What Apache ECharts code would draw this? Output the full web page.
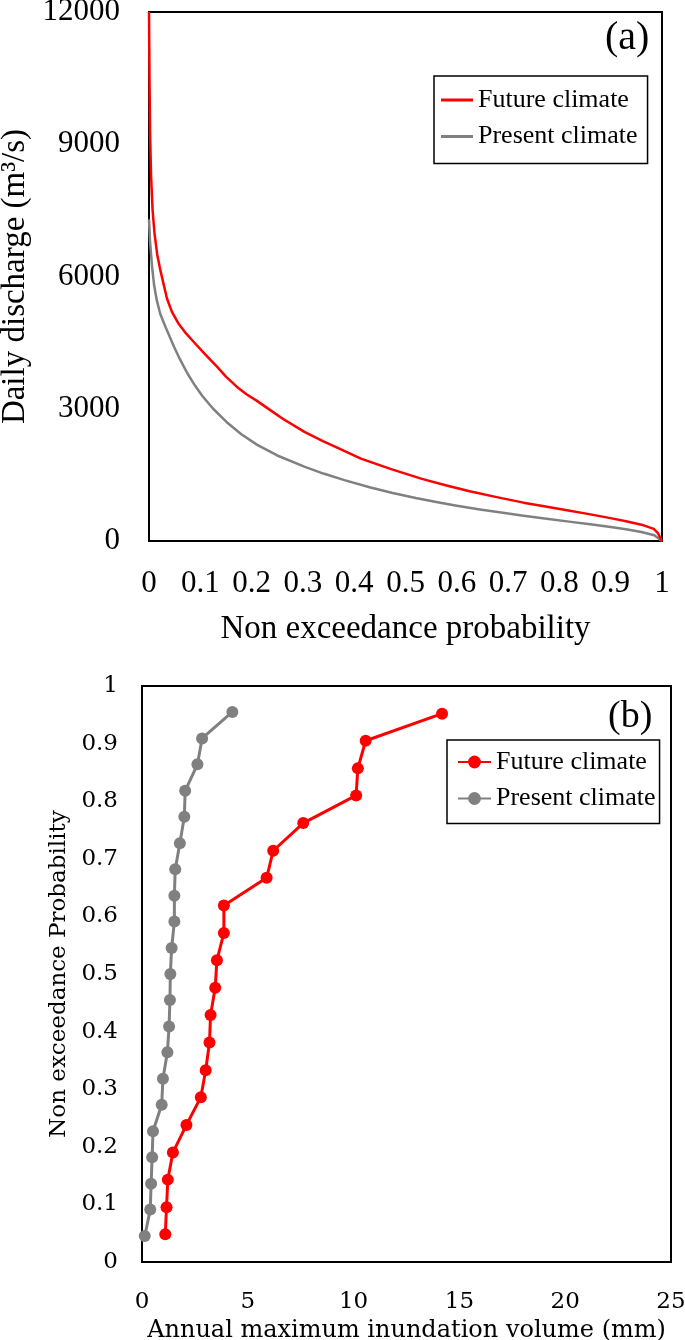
<!DOCTYPE html>
<html><head><meta charset="utf-8">
<script src="https://cdn.jsdelivr.net/npm/echarts@6/dist/echarts.min.js"></script>
<style>html,body{margin:0;padding:0;background:#fff;}#a,#b{width:685px;height:670px;}</style>
</head><body><div id="a"></div><div id="b"></div>
<script>
// ---------- Panel (a): flow duration curves ----------
const probFutureA = [0,0.001,0.002,0.004,0.007,0.011,0.016,0.022,0.028,0.035,0.045,0.057,0.07,0.09,0.11,0.133,0.15,0.171,0.19,0.209,0.235,0.26,0.303,0.34,0.37,0.413,0.472,0.532,0.58,0.625,0.68,0.73,0.77,0.812,0.855,0.897,0.93,0.96,0.984,0.992,1.0];
const dischargeFuture = [12000,10500,9300,8300,7500,6950,6500,6150,5850,5500,5190,4940,4740,4480,4230,3950,3730,3500,3330,3190,2980,2780,2475,2260,2100,1870,1630,1410,1260,1130,990,870,790,705,615,525,450,370,275,180,0];
const probPresentA = [0,0.002,0.006,0.01,0.015,0.022,0.032,0.049,0.06,0.075,0.09,0.104,0.125,0.151,0.18,0.211,0.25,0.304,0.34,0.381,0.43,0.475,0.52,0.56,0.6,0.645,0.69,0.73,0.775,0.815,0.86,0.9,0.93,0.96,0.985,1.0];
const dischargePresent = [7300,6800,6220,5800,5470,5150,4860,4400,4130,3800,3520,3290,3000,2700,2420,2180,1940,1680,1530,1380,1220,1090,975,885,800,715,640,575,505,445,380,318,265,204,130,0];

// ---------- Panel (b): annual maximum inundation volume ----------
const probFutureB = [0.048,0.095,0.143,0.19,0.238,0.286,0.333,0.381,0.429,0.476,0.524,0.571,0.619,0.667,0.714,0.762,0.81,0.857,0.905,0.952];
const volumeFuture = [1.1,1.16,1.22,1.46,2.1,2.78,3.01,3.19,3.24,3.46,3.54,3.87,3.87,5.89,6.2,7.62,10.12,10.2,10.57,14.18];
const probPresentB = [0.045,0.091,0.136,0.182,0.227,0.273,0.318,0.364,0.409,0.455,0.5,0.545,0.591,0.636,0.682,0.727,0.773,0.818,0.864,0.909,0.955];
const volumePresent = [0.13,0.39,0.43,0.48,0.52,0.93,0.99,1.2,1.28,1.32,1.34,1.4,1.53,1.53,1.57,1.79,2.0,2.04,2.62,2.84,4.27];

const seriesNames = ['Future climate','Present climate'];
const xRangeA = [0,1,0.1], yRangeA = [0,12000,3000];
const xRangeB = [0,25,5], yRangeB = [0,1,0.1];

const RED = '#ff0000', GREY = '#808080';
const TIMES = '"Liberation Serif", "Times New Roman", serif';
const CENT = '"DejaVu Serif", serif';
const zip = (a,b)=>a.map((v,i)=>[v,b[i]]);
const fmt = v => String(Math.round(v*10)/10);

const chartA = echarts.init(document.getElementById('a'));
chartA.setOption({
  animation:false,
  grid:{left:149,top:12,width:513,height:529,show:true,borderColor:'#000',borderWidth:2,outerBoundsMode:'none',containLabel:false},
  xAxis:{type:'value',min:xRangeA[0],max:xRangeA[1],interval:xRangeA[2],
    axisLine:{show:true,lineStyle:{color:'#000',width:2}},axisTick:{show:false},splitLine:{show:false},
    axisLabel:{color:'#000',fontFamily:TIMES,fontSize:31,margin:27,formatter:fmt},
    name:'Non exceedance probability',nameLocation:'middle',nameGap:72,
    nameTextStyle:{color:'#000',fontFamily:TIMES,fontSize:33}},
  yAxis:{type:'value',min:yRangeA[0],max:yRangeA[1],interval:yRangeA[2],
    axisLine:{show:true,lineStyle:{color:'#000',width:2}},axisTick:{show:false},splitLine:{show:false},
    axisLabel:{color:'#000',fontFamily:TIMES,fontSize:31,margin:29,formatter:v=>String(v)},
    name:'Daily discharge (m³/s)',nameLocation:'middle',nameGap:110,
    nameTextStyle:{color:'#000',fontFamily:TIMES,fontSize:33}},
  legend:{data:seriesNames.map(n=>({name:n,icon:'rect'})),orient:'vertical',left:434,top:76,padding:[9,10,12,7],
    itemWidth:32,itemHeight:3,itemGap:6.5,borderColor:'#000',borderWidth:1.5,
    textStyle:{color:'#000',fontFamily:TIMES,fontSize:26,lineHeight:30}},
  graphic:[{type:'text',left:605,top:18,style:{text:'(a)',fill:'#000',font:'40px "Liberation Serif"'}}],
  series:[
    {type:'line',name:seriesNames[1],data:zip(probPresentA,dischargePresent),symbol:'none',
      lineStyle:{color:GREY,width:2.5,join:'round'},itemStyle:{color:GREY}},
    {type:'line',name:seriesNames[0],data:zip(probFutureA,dischargeFuture),symbol:'none',
      lineStyle:{color:RED,width:2.5,join:'round'},itemStyle:{color:RED}}
  ]
});

const chartB = echarts.init(document.getElementById('b'));
chartB.setOption({
  animation:false,
  grid:{left:142,top:16,width:529,height:576,show:true,borderColor:'#000',borderWidth:2,outerBoundsMode:'none',containLabel:false},
  xAxis:{type:'value',min:xRangeB[0],max:xRangeB[1],interval:xRangeB[2],
    axisLine:{show:true,lineStyle:{color:'#000',width:2}},axisTick:{show:false},splitLine:{show:false},
    axisLabel:{color:'#000',fontFamily:CENT,fontSize:23,margin:29},
    name:'Annual maximum inundation volume (mm)',nameLocation:'middle',nameGap:55,
    nameTextStyle:{color:'#000',fontFamily:CENT,fontSize:24}},
  yAxis:{type:'value',min:yRangeB[0],max:yRangeB[1],interval:yRangeB[2],
    axisLine:{show:true,lineStyle:{color:'#000',width:2}},axisTick:{show:false},splitLine:{show:false},
    axisLabel:{color:'#000',fontFamily:CENT,fontSize:23,margin:24,formatter:fmt},
    name:'Non exceedance Probability',nameLocation:'middle',nameGap:71,
    nameTextStyle:{color:'#000',fontFamily:CENT,fontSize:23}},
  legend:{data:seriesNames,orient:'vertical',left:447,top:70,padding:[7,4,10,10],
    itemWidth:33,itemHeight:16,itemGap:6.5,borderColor:'#000',borderWidth:1.5,
    textStyle:{color:'#000',fontFamily:TIMES,fontSize:26,lineHeight:30}},
  graphic:[{type:'text',left:608,top:28,style:{text:'(b)',fill:'#000',font:'38px "Liberation Serif"'}}],
  series:[
    {type:'line',name:seriesNames[0],data:zip(volumeFuture,probFutureB),symbol:'circle',symbolSize:12,
      lineStyle:{color:RED,width:3},itemStyle:{color:RED}},
    {type:'line',name:seriesNames[1],data:zip(volumePresent,probPresentB),symbol:'circle',symbolSize:12,
      lineStyle:{color:GREY,width:3},itemStyle:{color:GREY}}
  ]
});
</script></body></html>
